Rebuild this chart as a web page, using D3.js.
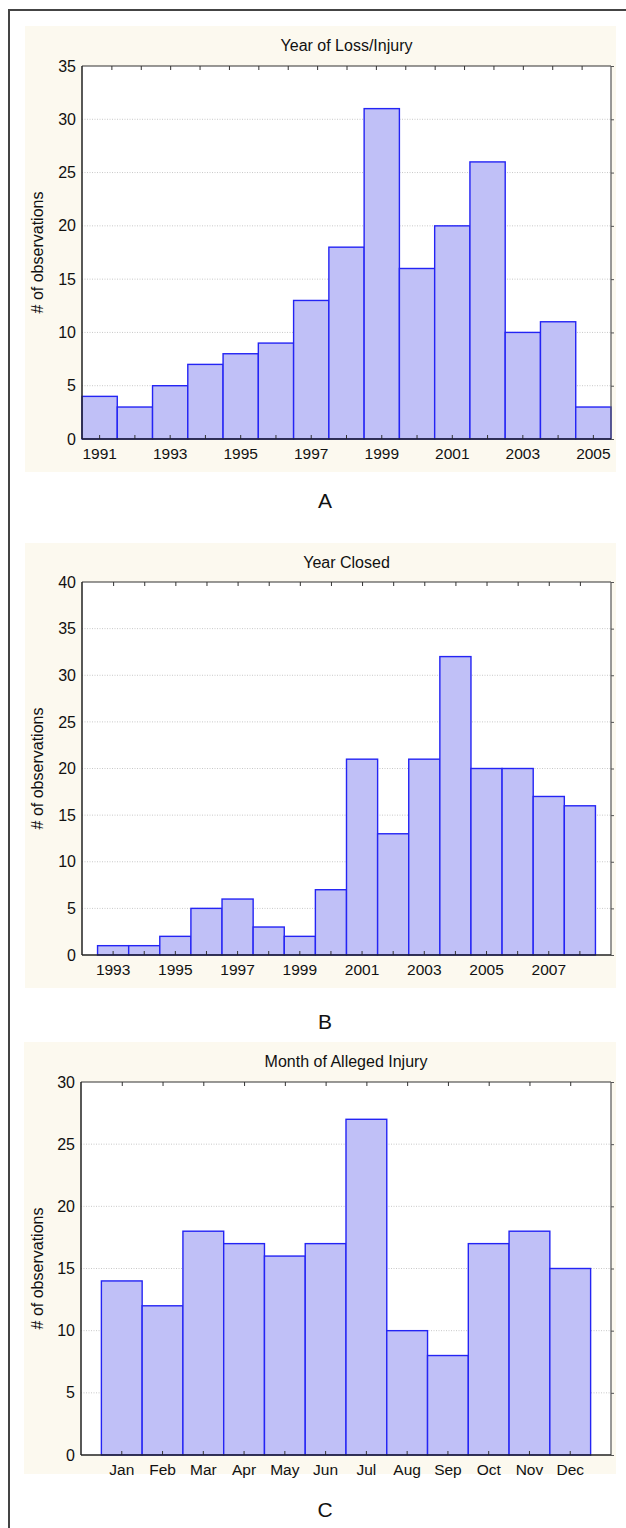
<!DOCTYPE html>
<html><head><meta charset="utf-8">
<script src="https://cdn.jsdelivr.net/npm/d3@7"></script>
<style>html,body{margin:0;padding:0;background:#fff;}svg{display:block;font-family:"Liberation Sans",Arial,sans-serif;}</style>
</head><body>
<svg id="c" width="626" height="1528"></svg>
<script>
// ---- data ----
const yearsA = [1991,1992,1993,1994,1995,1996,1997,1998,1999,2000,2001,2002,2003,2004,2005];
const countsA = [4,3,5,7,8,9,13,18,31,16,20,26,10,11,3];
const labelsA = [1991,1993,1995,1997,1999,2001,2003,2005];

const yearsB = [1993,1994,1995,1996,1997,1998,1999,2000,2001,2002,2003,2004,2005,2006,2007,2008];
const countsB = [1,1,2,5,6,3,2,7,21,13,21,32,20,20,17,16];
const labelsB = [1993,1995,1997,1999,2001,2003,2005,2007];

const months = ["Jan","Feb","Mar","Apr","May","Jun","Jul","Aug","Sep","Oct","Nov","Dec"];
const countsC = [14,12,18,17,16,17,27,10,8,17,18,15];

const yTicksA = [0,5,10,15,20,25,30,35];
const yTicksB = [0,5,10,15,20,25,30,35,40];
const yTicksC = [0,5,10,15,20,25,30];

const titles = ["Year of Loss/Injury","Year Closed","Month of Alleged Injury"];
const letters = ["A","B","C"];
const yAxisTitle = "# of observations";

// ---- layout ----
const panels = [
  {cats:yearsA, vals:countsA, labels:labelsA, yTicks:yTicksA, outer:0,   topDiv:18, bg:[25,26,616,472],  plot:[82,66,611,439],  letterY:500},
  {cats:yearsB, vals:countsB, labels:labelsB, yTicks:yTicksB, outer:0.5, topDiv:17, bg:[25,543,616,988], plot:[82,582,611,955], letterY:1021},
  {cats:months, vals:countsC, labels:months,  yTicks:yTicksC, outer:0.5, topDiv:13, bg:[24,1042,616,1474],plot:[81,1082,611,1455],letterY:1509}
];

const svg = d3.select("#c");
// outer frame
svg.append("rect").attr("x",9).attr("y",10).attr("width",640).attr("height",1540)
  .attr("fill","none").attr("stroke","#444").attr("stroke-width",2);

panels.forEach((p,i)=>{
  const [px0,py0,px1,py1] = p.plot;
  const g = svg.append("g");
  g.append("rect").attr("x",p.bg[0]).attr("y",p.bg[1]).attr("width",p.bg[2]-p.bg[0]).attr("height",p.bg[3]-p.bg[1]).attr("fill","#fcf9ef");
  g.append("rect").attr("x",px0).attr("y",py0).attr("width",px1-px0).attr("height",py1-py0).attr("fill","#fff");

  const x = d3.scaleBand().domain(p.cats).range([px0,px1]).paddingInner(0).paddingOuter(p.outer);
  const y = d3.scaleLinear().domain([0, d3.max(p.yTicks)]).range([py1,py0]);

  // gridlines
  g.append("g").selectAll("line").data(p.yTicks.filter(t=>t>0 && t<d3.max(p.yTicks))).join("line")
    .attr("x1",px0).attr("x2",px1).attr("y1",d=>y(d)).attr("y2",d=>y(d))
    .attr("stroke","#c8c8c8").attr("stroke-width",1).attr("stroke-dasharray","1,1.5");

  // bars
  g.append("g").selectAll("rect").data(p.cats.map((c,k)=>({c,v:p.vals[k]}))).join("rect")
    .attr("x",d=>x(d.c)).attr("y",d=>y(d.v)).attr("width",x.bandwidth()).attr("height",d=>y(0)-y(d.v))
    .attr("fill","#c0c0f7").attr("stroke","#2424f4").attr("stroke-width",1.4);

  // bottom axis (inward ticks at each category)
  const xAxis = d3.axisBottom(x).tickSizeInner(-4).tickSizeOuter(0).tickPadding(9)
    .tickFormat(d=>p.labels.includes(d)?String(d):"");
  const gx = g.append("g").attr("transform",`translate(0,${py1})`).call(xAxis);
  gx.select(".domain").remove();
  gx.selectAll("line").attr("stroke","#333");
  gx.selectAll("text").attr("font-size",15.5).attr("fill","#111").attr("font-family","Liberation Sans, Arial");

  // top axis ticks (inward)
  const xt = d3.scaleLinear().domain([0,p.topDiv]).range([px0,px1]);
  const gt = g.append("g").attr("transform",`translate(0,${py0})`)
    .call(d3.axisTop(xt).tickValues(d3.range(1,p.topDiv)).tickSizeInner(-4).tickSizeOuter(0).tickFormat(""));
  gt.select(".domain").remove();
  gt.selectAll("line").attr("stroke","#333");

  // left axis labels
  const gy = g.append("g").attr("transform",`translate(${px0},0)`)
    .call(d3.axisLeft(y).tickValues(p.yTicks).tickSize(0).tickPadding(6));
  gy.select(".domain").remove();
  gy.selectAll("text").attr("font-size",16).attr("fill","#111").attr("font-family","Liberation Sans, Arial");

  // right axis ticks outward
  const gr = g.append("g").attr("transform",`translate(${px1},0)`)
    .call(d3.axisRight(y).tickValues(p.yTicks).tickSize(3).tickFormat(""));
  gr.select(".domain").remove();
  gr.selectAll("line").attr("stroke","#555");

  // plot frame
  g.append("line").attr("x1",px0).attr("x2",px1).attr("y1",py0).attr("y2",py0).attr("stroke","#333").attr("stroke-width",1.2);
  g.append("line").attr("x1",px1).attr("x2",px1).attr("y1",py0).attr("y2",py1).attr("stroke","#555").attr("stroke-width",1.2);
  g.append("line").attr("x1",px0).attr("x2",px0).attr("y1",py0).attr("y2",py1).attr("stroke","#222").attr("stroke-width",1.5);
  g.append("line").attr("x1",px0).attr("x2",px1).attr("y1",py1).attr("y2",py1).attr("stroke","#222").attr("stroke-width",1.5);

  // title
  g.append("text").attr("x",(px0+px1)/2).attr("y",p.bg[1]+25).attr("text-anchor","middle")
    .attr("font-size",16).attr("fill","#111").text(titles[i]);

  // y axis title
  g.append("text").attr("transform",`translate(43,${(py0+py1)/2}) rotate(-90)`).attr("text-anchor","middle")
    .attr("font-size",16).attr("fill","#111").text(yAxisTitle);

  // letter
  g.append("text").attr("x",325).attr("y",p.letterY).attr("text-anchor","middle").attr("dominant-baseline","central")
    .attr("font-size",21).attr("fill","#111").text(letters[i]);
});
</script>
</body></html>
